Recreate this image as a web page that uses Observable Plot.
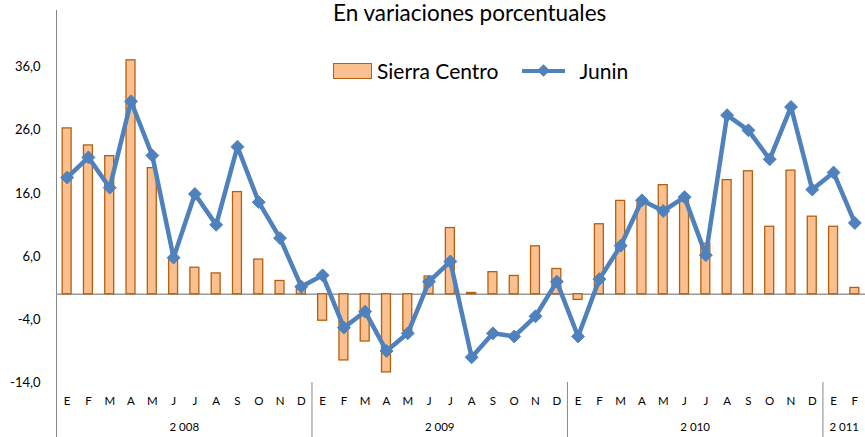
<!DOCTYPE html>
<html>
<head>
<meta charset="utf-8">
<script src="https://cdn.jsdelivr.net/npm/d3@7"></script>
<script src="https://cdn.jsdelivr.net/npm/@observablehq/plot@0.6"></script>
<style>
  html, body { margin: 0; padding: 0; background: #fff; }
  #wrap { position: relative; width: 865px; height: 437px; font-family: Lato, "Open Sans", sans-serif; }
  #title { position: absolute; top: -1px; left: 333px; font-size: 22.5px; color: #000; white-space: nowrap; }
  #legend { position: absolute; top: 58px; left: 333px; display: flex; align-items: center; font-size: 21px; color: #000; white-space: nowrap; }
  .sw-bar { width: 37px; height: 14px; background: #FAC090; border: 1.3px solid #B5600F; margin-right: 5px; }
  .sw-line { position: relative; width: 43px; height: 14px; margin-left: 23px; margin-right: 15px; }
  .sw-line .ln { position: absolute; left: 0; right: 0; top: 5px; height: 4px; background: #4F81BD; }
  .sw-line .dm { position: absolute; left: 17px; top: 2px; width: 9px; height: 9px; background: #4F81BD; transform: rotate(45deg); }
</style>
</head>
<body>
<div id="wrap">
  <div id="chart"></div>
  <div id="title">En variaciones porcentuales</div>
  <div id="legend">
    <div class="sw-bar"></div><span>Sierra Centro</span>
    <div class="sw-line"><div class="ln"></div><div class="dm"></div></div><span>Junin</span>
  </div>
</div>
<script>
const monthLabels = [
  "E","F","M","A","M","J","J","A","S","O","N","D",
  "E","F","M","A","M","J","J","A","S","O","N","D",
  "E","F","M","A","M","J","J","A","S","O","N","D",
  "E","F"
];
const yearLabels = ["2 008", "2 009", "2 010", "2 011"];
const yearMonths = [12, 12, 12, 2];

const sierraCentro = [
  26.3, 23.6, 21.9, 37.1, 20.0, 5.6, 4.2, 3.3, 16.2, 5.5, 2.1, 1.3,
  -4.2, -10.5, -7.5, -12.4, -5.8, 2.8, 10.5, 0.2, 3.5, 2.9, 7.6, 4.0,
  -0.9, 11.1, 14.8, 14.5, 17.3, 15.2, 8.0, 18.1, 19.5, 10.7, 19.6, 12.3,
  10.7, 1.0
];
const junin = [
  18.5, 21.7, 16.9, 30.6, 22.0, 5.8, 15.9, 11.0, 23.4, 14.6, 8.9, 1.2,
  3.0, -5.3, -2.75, -9.0, -6.2, 2.0, 5.2, -10.0, -6.2, -6.7, -3.5, 2.0,
  -6.7, 2.4, 7.7, 14.9, 13.2, 15.4, 6.2, 28.4, 26.0, 21.4, 29.7, 16.6,
  19.3, 11.3
];
const yTicks = [-14, -4, 6, 16, 26, 36];
const yDomain = [-14, 45];

const rows = monthLabels.map((m, i) => ({i, month: m, sierra: sierraCentro[i], junin: junin[i]}));

let start = 0;
const years = yearLabels.map((label, k) => {
  const g = {label, start, end: start + yearMonths[k] - 1};
  start += yearMonths[k];
  return g;
});
const yearCenter = new Map(years.map(g => [(g.start + g.end) / 2, g.label]));
const boundaries = years.map(g => g.start - 0.5);
const half = 0.21;

const fmt = d => d.toFixed(1).replace(".", ",");

const chart = Plot.plot({
  width: 865,
  height: 437,
  marginLeft: 56,
  marginRight: 0,
  marginTop: 10,
  marginBottom: 55,
  style: {fontFamily: "Lato, 'Open Sans', sans-serif", color: "#000", background: "#fff"},
  x: {domain: [-0.5, monthLabels.length - 0.5]},
  y: {domain: yDomain},
  marks: [
    Plot.frame({anchor: "left", stroke: "#888"}),
    Plot.ruleY([0], {stroke: "#9a9a9a", strokeWidth: 1.5}),
    Plot.rectY(rows, {x1: d => d.i - half, x2: d => d.i + half, y1: 0, y2: "sierra", fill: "#FAC090", stroke: "#B5600F", strokeWidth: 1.3}),
    Plot.line(rows, {x: "i", y: "junin", stroke: "#4F81BD", strokeWidth: 4.5}),
    Plot.dot(rows, {x: "i", y: "junin", symbol: "diamond2", r: 5.8, fill: "#4F81BD", stroke: "#4F81BD", strokeWidth: 1}),
    Plot.axisY({ticks: yTicks, tickSize: 0, tickPadding: 16, tickFormat: fmt, fontSize: 13, label: null}),
    Plot.axisX({ticks: rows.map(d => d.i), tickSize: 0, tickPadding: 14, tickFormat: i => monthLabels[i], fontSize: 11.5, label: null}),
    Plot.axisX({ticks: [...yearCenter.keys()], tickSize: 0, tickPadding: 40, tickFormat: c => yearCenter.get(c), fontSize: 11.5, label: null}),
    Plot.axisX({ticks: boundaries, tickSize: 55, tickFormat: () => "", stroke: "#888", label: null})
  ]
});
document.getElementById("chart").appendChild(chart);
</script>
</body>
</html>
